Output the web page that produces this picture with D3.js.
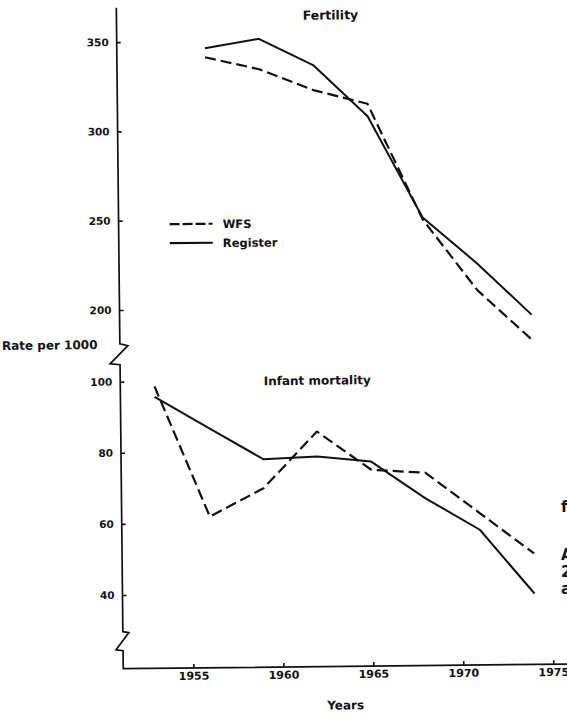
<!DOCTYPE html>
<html>
<head>
<meta charset="utf-8">
<script src="https://cdn.jsdelivr.net/npm/d3@7"></script>
<style>
body { margin: 0; background: #fff; }
svg { display: block; }
text { font-family: "DejaVu Sans", sans-serif; font-weight: bold; fill: #111; }
</style>
</head>
<body>
<div id="chart"></div>
<script>
var fertilityYears = [1956, 1959, 1962, 1965, 1968, 1971, 1974];
var infantYears = [1953, 1956, 1959, 1962, 1965, 1968, 1971, 1974];
var fertilityWFS = [341, 334, 322, 314, 249, 209, 181];
var fertilityRegister = [346, 351, 336, 307, 250, 224, 195];
var infantWFS = [98.6, 61.8, 69.6, 85.4, 74.5, 73.5, 62, 50.5];
var infantRegister = [95.6, 86.7, 77.8, 78.4, 76.8, 66.3, 57.3, 39.2];
var xTicks = [1955, 1960, 1965, 1970, 1975];
var fertilityTicks = [200, 250, 300, 350];
var infantTicks = [40, 60, 80, 100];
var seriesNames = ["WFS", "Register"];
var panelTitles = ["Fertility", "Infant mortality"];

var width = 567, height = 715;
var dash = "11,5";

var svg = d3.select("#chart")
    .append("svg")
    .attr("width", width)
    .attr("height", height)

// the scan is slightly tilted
var g = svg.append("g")
    .attr("transform", "rotate(-0.6,283,357)")

var x = d3.scaleLinear().domain([1951.1, 1975]).range([120, 550]);
var yTop = d3.scaleLinear().domain([200, 350]).range([308.3, 40.4]);
var yBot = d3.scaleLinear().domain([40, 100]).range([593.3, 380]);

// axis with the two breaks
var axisPath = d3.path();
axisPath.moveTo(120, 6);
axisPath.lineTo(120, 342);
axisPath.lineTo(128, 344);
axisPath.lineTo(110, 362);
axisPath.lineTo(120, 363);
axisPath.lineTo(120, 630);
axisPath.lineTo(126, 631);
axisPath.lineTo(113, 648);
axisPath.lineTo(120, 649);
axisPath.lineTo(120, 667);
axisPath.lineTo(580, 667);

g.append("path")
    .attr("d", axisPath.toString())
    .attr("fill", "none")
    .attr("stroke", "#111")
    .attr("stroke-width", 1.7)
    .attr("stroke-linejoin", "miter")

function styleAxis(sel) {
    sel.select(".domain").remove();
    sel.selectAll(".tick line").attr("stroke", "#111").attr("stroke-width", 1.6);
    sel.selectAll("text")
        .attr("font-family", "DejaVu Sans, sans-serif")
        .attr("font-weight", "bold")
        .attr("fill", "#111");
}

g.append("g")
    .attr("transform", "translate(120,0)")
    .call(d3.axisLeft(yTop).tickValues(fertilityTicks).tickSizeInner(-4).tickSizeOuter(0).tickPadding(8))
    .call(styleAxis)
    .attr("font-size", 10.5)

g.append("g")
    .attr("transform", "translate(120,0)")
    .call(d3.axisLeft(yBot).tickValues(infantTicks).tickSizeInner(-4).tickSizeOuter(0).tickPadding(8))
    .call(styleAxis)
    .attr("font-size", 10.5)

g.append("g")
    .attr("transform", "translate(0,667)")
    .call(d3.axisBottom(x).tickValues(xTicks).tickFormat(d3.format("d")).tickSizeInner(-4).tickSizeOuter(0).tickPadding(4))
    .call(styleAxis)
    .attr("font-size", 11)

var series = [
    {years: fertilityYears, values: fertilityWFS, y: yTop, dashed: true},
    {years: fertilityYears, values: fertilityRegister, y: yTop, dashed: false},
    {years: infantYears, values: infantWFS, y: yBot, dashed: true},
    {years: infantYears, values: infantRegister, y: yBot, dashed: false}
];

series.forEach(function(s) {
    var line = d3.line()
        .x(function(d, i) { return x(s.years[i]); })
        .y(function(d) { return s.y(d); });
    g.append("path")
        .datum(s.values)
        .attr("d", line)
        .attr("fill", "none")
        .attr("stroke", "#111")
        .attr("stroke-width", s.dashed ? 2.2 : 2)
        .attr("stroke-dasharray", s.dashed ? dash : null)
        .attr("stroke-linejoin", "round")
});

g.append("text")
    .attr("x", 334)
    .attr("y", 20)
    .attr("text-anchor", "middle")
    .attr("font-size", 12.5)
    .text(panelTitles[0])

g.append("text")
    .attr("x", 317)
    .attr("y", 385)
    .attr("text-anchor", "middle")
    .attr("font-size", 12)
    .text(panelTitles[1])

// legend
var legend = g.append("g")
    .selectAll("g")
    .data(seriesNames)
    .join("g")
      .attr("transform", function(d, i) { return "translate(171," + (223 + i * 19) + ")"; })

legend.append("line")
    .attr("x1", 0)
    .attr("x2", 43)
    .attr("stroke", "#111")
    .attr("stroke-width", 2.2)
    .attr("stroke-dasharray", function(d, i) { return i == 0 ? "10,3" : null; })

legend.append("text")
    .attr("x", 53)
    .attr("y", 4.5)
    .attr("font-size", 11.5)
    .text(function(d) { return d; })

g.append("text")
    .attr("x", 2)
    .attr("y", 347)
    .attr("font-size", 12)
    .text("Rate per 1000")

g.append("text")
    .attr("x", 342)
    .attr("y", 710)
    .attr("text-anchor", "middle")
    .attr("font-size", 12)
    .text("Years")

// bits of the next column of the page, cut off at the edge
var edgeText = [["f", 512], ["A", 560], ["2", 577], ["a", 594]];
svg.append("g")
    .selectAll("text")
    .data(edgeText)
    .join("text")
      .attr("x", 561)
      .attr("y", function(d) { return d[1]; })
      .attr("font-size", 15)
      .text(function(d) { return d[0]; })
</script>
</body>
</html>
